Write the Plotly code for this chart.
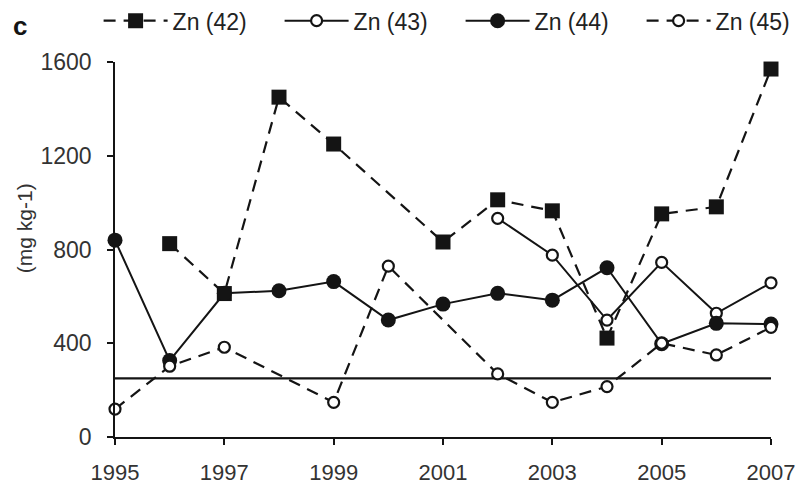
import plotly.graph_objects as go

years = list(range(1995, 2008))

zn42_years = [1996, 1997, 1998, 1999, 2001, 2002, 2003, 2004, 2005, 2006, 2007]
zn42 = [825, 612, 1450, 1250, 832, 1012, 965, 422, 952, 982, 1570]

zn43_years = [2002, 2003, 2004, 2005, 2006, 2007]
zn43 = [933, 776, 499, 745, 528, 658]

zn44_years = years
zn44 = [840, 326, 613, 624, 663, 499, 567, 613, 584, 722, 398, 485, 482]

zn45_years = [1995, 1996, 1997, 1999, 2000, 2002, 2003, 2004, 2005, 2006, 2007]
zn45 = [119, 302, 383, 148, 729, 269, 148, 215, 400, 350, 468]

threshold = 250

y_ticks = [0, 400, 800, 1200, 1600]
x_ticks = [1995, 1997, 1999, 2001, 2003, 2005, 2007]

INK = "#141414"
TXT = "#333333"
DASH = "12px,8px"
FONT = "Liberation Sans, Arial, sans-serif"

fig = go.Figure()

fig.add_trace(go.Scatter(
    x=[years[0], years[-1]], y=[threshold, threshold], mode="lines",
    line=dict(color=INK, width=2.2), showlegend=False, hoverinfo="skip"))

fig.add_trace(go.Scatter(
    x=zn42_years, y=zn42, name="Zn (42)", mode="lines+markers",
    line=dict(color=INK, width=2.2, dash=DASH),
    marker=dict(symbol="square", size=15, color=INK),
    cliponaxis=False))

fig.add_trace(go.Scatter(
    x=zn43_years, y=zn43, name="Zn (43)", mode="lines+markers",
    line=dict(color=INK, width=2),
    marker=dict(symbol="circle", size=11, color="white", line=dict(color=INK, width=2.2)),
    cliponaxis=False))

fig.add_trace(go.Scatter(
    x=zn44_years, y=zn44, name="Zn (44)", mode="lines+markers",
    line=dict(color=INK, width=2),
    marker=dict(symbol="circle", size=15, color=INK),
    cliponaxis=False))

fig.add_trace(go.Scatter(
    x=zn45_years, y=zn45, name="Zn (45)", mode="lines+markers",
    line=dict(color=INK, width=2.2, dash=DASH),
    marker=dict(symbol="circle", size=11, color="white", line=dict(color=INK, width=2.2)),
    cliponaxis=False))

fig.add_annotation(
    text="<b>c</b>", xref="paper", yref="paper", x=-0.158, y=1.096,
    xanchor="left", yanchor="middle", showarrow=False,
    font=dict(family=FONT, size=26, color=INK))

fig.add_annotation(
    text="(mg kg-1)", xref="paper", yref="paper", x=-0.1387, y=0.557,
    xanchor="center", yanchor="middle", textangle=-90, showarrow=False,
    font=dict(family=FONT, size=21, color=TXT))

fig.update_layout(
    width=799, height=484,
    margin=dict(l=115, r=28, t=62, b=47, autoexpand=False),
    paper_bgcolor="white", plot_bgcolor="white",
    font=dict(family=FONT, size=22, color=TXT),
    showlegend=True,
    legend=dict(orientation="h", x=-0.025, y=1.11, xanchor="left", yanchor="middle",
                font=dict(family=FONT, size=23, color="#222222"),
                itemwidth=64, entrywidth=102, entrywidthmode="pixels",
                tracegroupgap=0, bgcolor="rgba(0,0,0,0)"),
    xaxis=dict(range=[1995, 2007], tickvals=x_ticks, ticktext=[str(t) for t in x_ticks],
               showgrid=False, zeroline=False, showline=True, linecolor=INK, linewidth=1.5,
               ticks="outside", ticklen=6, tickwidth=1.5, tickcolor=INK,
               ticklabelstandoff=9, automargin=False,
               tickfont=dict(family=FONT, size=22, color=TXT)),
    yaxis=dict(range=[0, 1600], tickvals=y_ticks,
               showgrid=False, zeroline=False, showline=True, linecolor=INK, linewidth=1.5,
               ticks="outside", ticklen=6, tickwidth=1.5, tickcolor=INK,
               ticklabelstandoff=11, automargin=False,
               tickfont=dict(family=FONT, size=23, color=TXT)),
)

fig.write_html("out.html", config={"displayModeBar": False},
               post_script="document.body.style.margin='0';")
